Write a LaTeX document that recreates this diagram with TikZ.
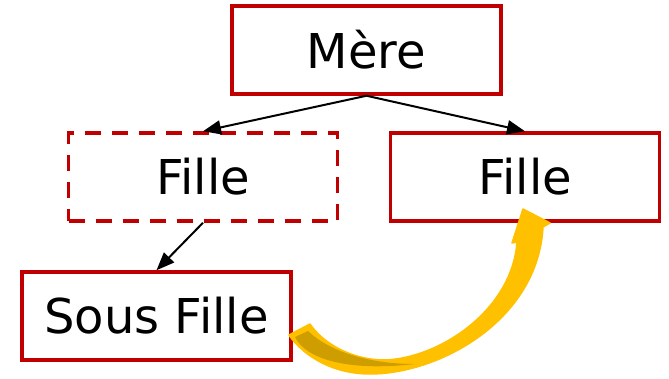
\documentclass[tikz,border=0pt]{standalone}
\usepackage{fontspec}
\setmainfont{DejaVu Sans}
\usetikzlibrary{arrows.meta}
\definecolor{boxred}{RGB}{192,0,0}
\definecolor{gold}{RGB}{255,192,0}
\definecolor{darkgold}{RGB}{206,158,0}
\begin{document}
\begin{tikzpicture}[x=1pt,y=-1pt,
  box/.style={draw=boxred,line width=3.5pt,minimum width=269pt,minimum height=88pt,inner sep=0pt,font=\fontsize{48}{50}\selectfont},
  dbox/.style={box,dash pattern=on 16pt off 11pt},
  link/.style={line width=2pt,-{Triangle[length=18pt,width=14pt]}}]
\useasboundingbox (0,0) rectangle (669,379);
\node[box] (mere) at (366.5,50) {Mère};
\node[dbox] (f1) at (203,177) {Fille};
\node[box] (f2) at (525,177) {Fille};
\node[box] (sf) at (156.5,316) {Sous Fille};
\draw[link] (mere.south) -- (f1.north);
\draw[link] (mere.south) -- (f2.north);
\draw[link] (f1.south) -- (sf.north);
% curved yellow arrow
\fill[gold,draw=gold,line width=1.5pt,line join=round]
  (289,335) .. controls (305,358) and (335,374) .. (370,374)
  .. controls (440,374) and (538,320) .. (543,227)
  -- (550,223) -- (523,209) -- (512,243) -- (517,242)
  .. controls (512,310) and (440,358) .. (385,360)
  .. controls (350,360) and (322,342) .. (310,324) -- cycle;
\fill[darkgold]
  (295,337) .. controls (305,358) and (345,372) .. (415,364)
  .. controls (370,364) and (330,352) .. (308,331) -- cycle;
\end{tikzpicture}
\end{document}
